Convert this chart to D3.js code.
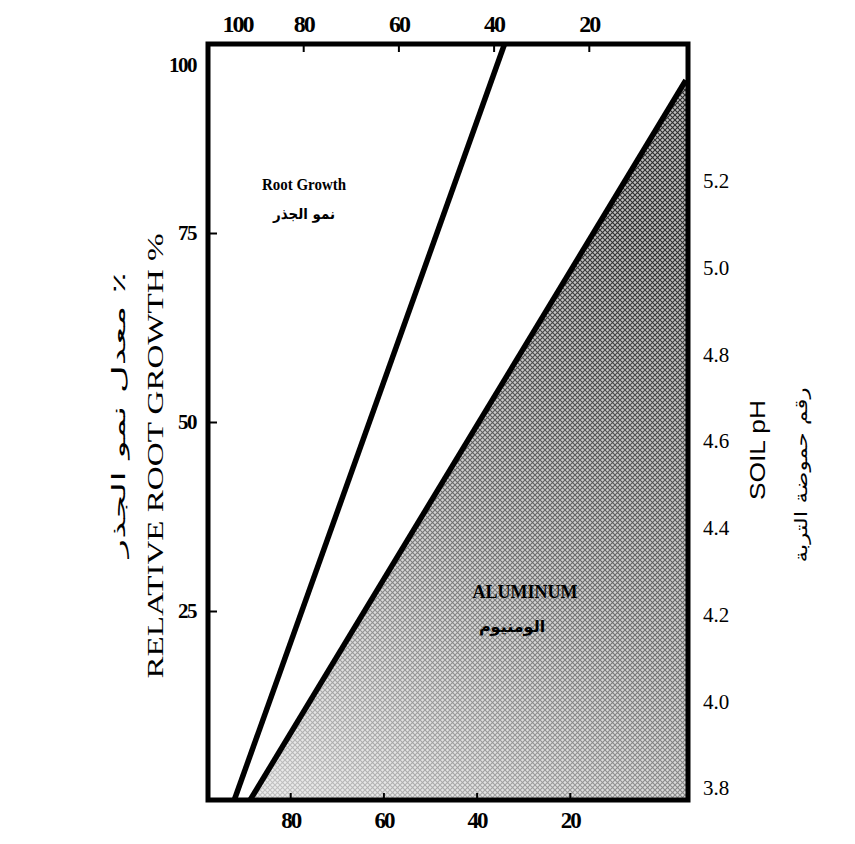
<!DOCTYPE html>
<html><head><meta charset="utf-8">
<script src="https://cdn.jsdelivr.net/npm/d3@7"></script>
<style>body{margin:0;background:#fff}</style>
</head><body>
<svg id="c" width="855" height="844"></svg>
<script>
// ---- data ----
const topTicks = [100, 80, 60, 40, 20];          // top axis labels
const bottomTicks = [80, 60, 40, 20];            // bottom axis labels
const leftTicks = [25, 50, 75, 100];             // relative root growth %
const phTicks = [3.8, 4.0, 4.2, 4.4, 4.6, 4.8, 5.0, 5.2]; // soil pH
// line endpoints: [aluminum %, relative root growth %]
const rootGrowthLine = [[92, 0], [34, 100]];
const aluminumLine = [[88.6, 0], [-4.9, 95.2]];

const svg = d3.select("#c");
const L = 208, R = 688, T = 44, B = 800;

const xTop = d3.scaleLinear().domain([100, 0]).range([208, 684]);
const xBot = d3.scaleLinear().domain([100, 0]).range([197, 663]);
const yL = d3.scaleLinear().domain([0, 100]).range([B, T]);
const yR = d3.scaleLinear().domain([3.8, 5.2]).range([788, 181]);

// shading pattern
const defs = svg.append("defs");
const pat = defs.append("pattern").attr("id", "hatch").attr("patternUnits", "userSpaceOnUse")
  .attr("width", 5).attr("height", 5);
pat.append("rect").attr("width", 5).attr("height", 5).attr("fill", "#bdbdbd");
pat.append("path").attr("d", "M0,0L5,5M5,0L0,5").attr("stroke", "#2e2e2e").attr("stroke-width", 1.1);
const grad = defs.append("linearGradient").attr("id", "fade")
  .attr("gradientUnits", "userSpaceOnUse")
  .attr("x1", 300).attr("y1", 800).attr("x2", 660).attr("y2", 250);
grad.append("stop").attr("offset", 0).attr("stop-color", "#fff").attr("stop-opacity", 0.7);
grad.append("stop").attr("offset", 0.5).attr("stop-color", "#fff").attr("stop-opacity", 0.3);
grad.append("stop").attr("offset", 1).attr("stop-color", "#fff").attr("stop-opacity", 0);

const xEdge = xBot.invert(R);
const shadePoly = [...aluminumLine, [xEdge, aluminumLine[1][1]], [xEdge, 0]];
const line = d3.line().x(d => xBot(d[0])).y(d => yL(d[1]));
svg.append("path").attr("d", line(shadePoly) + "Z").attr("fill", "url(#hatch)");
svg.append("path").attr("d", line(shadePoly) + "Z").attr("fill", "url(#fade)");

// lines
svg.append("path").attr("d", line(rootGrowthLine)).attr("stroke", "#000").attr("stroke-width", 5.5).attr("fill", "none");
svg.append("path").attr("d", line(aluminumLine)).attr("stroke", "#000").attr("stroke-width", 5.5).attr("fill", "none");

// frame
svg.append("rect").attr("x", L).attr("y", T).attr("width", R - L).attr("height", B - T)
  .attr("fill", "none").attr("stroke", "#000").attr("stroke-width", 5);

const numFont = "'Liberation Serif', 'Times New Roman', serif";
const arFont = "'DejaVu Sans', 'Noto Sans', sans-serif";

// top axis
const gTop = svg.append("g").attr("transform", `translate(0,${T})`)
  .call(d3.axisTop(xTop).tickValues(topTicks).tickSize(-8).tickPadding(12).tickFormat(d3.format("d")));
gTop.select(".domain").remove();
gTop.selectAll(".tick line").attr("stroke-width", 2).filter(d => d === 100).remove();
gTop.selectAll(".tick text").filter(d => d === 100).attr("dx", 29);

// bottom axis
const gBot = svg.append("g").attr("transform", `translate(0,${B})`)
  .call(d3.axisBottom(xBot).tickValues(bottomTicks).tickSize(-7).tickPadding(12).tickFormat(d3.format("d")));
gBot.select(".domain").remove();
gBot.selectAll(".tick line").attr("stroke-width", 2);

// left axis
const gLeft = svg.append("g").attr("transform", `translate(${L},0)`)
  .call(d3.axisLeft(yL).tickValues(leftTicks).tickSize(-9).tickPadding(12).tickFormat(d3.format("d")));
gLeft.select(".domain").remove();
gLeft.selectAll(".tick line").attr("stroke-width", 2).filter(d => d === 100).remove();
gLeft.selectAll(".tick text").filter(d => d === 100).attr("dy", "1.3em");

// right axis (pH)
const gRight = svg.append("g").attr("transform", `translate(${R},0)`)
  .call(d3.axisRight(yR).tickValues(phTicks).tickSize(0).tickPadding(15).tickFormat(d3.format(".1f")));
gRight.select(".domain").remove();

svg.selectAll(".tick text").attr("font-family", numFont).attr("font-weight", "bold").attr("fill", "#000");
gTop.selectAll(".tick text").attr("font-size", 24).attr("letter-spacing", -2);
gBot.selectAll(".tick text").attr("font-size", 23).attr("letter-spacing", -2);
gLeft.selectAll(".tick text").attr("font-size", 21).attr("letter-spacing", -1.5);
gRight.selectAll(".tick text").attr("font-weight", "normal").attr("font-size", 21);

// titles
svg.append("text").attr("transform", "translate(163,456) rotate(-90)").attr("text-anchor", "middle")
  .attr("font-family", numFont).attr("font-size", 23)
  .attr("textLength", 445).attr("lengthAdjust", "spacingAndGlyphs").text("RELATIVE ROOT GROWTH %");
svg.append("text").attr("transform", "translate(125,415) rotate(-90)").attr("text-anchor", "middle")
  .attr("font-family", arFont).attr("font-size", 18)
  .attr("textLength", 285).attr("lengthAdjust", "spacingAndGlyphs").text("معدل نمو الجذر ٪");
svg.append("text").attr("transform", "translate(765,450) rotate(-90)").attr("text-anchor", "middle")
  .attr("font-family", "'Liberation Sans', Arial, sans-serif").attr("font-size", 22)
  .attr("textLength", 100).attr("lengthAdjust", "spacingAndGlyphs").text("SOIL pH");
svg.append("text").attr("transform", "translate(807,475) rotate(-90)").attr("text-anchor", "middle")
  .attr("font-family", arFont).attr("font-size", 17)
  .attr("textLength", 175).attr("lengthAdjust", "spacingAndGlyphs").text("رقم حموضة التربة");

svg.append("text").attr("x", 304).attr("y", 190).attr("text-anchor", "middle")
  .attr("font-family", numFont).attr("font-size", 16).attr("font-weight", "bold")
  .attr("textLength", 84).attr("lengthAdjust", "spacingAndGlyphs").text("Root Growth");
svg.append("text").attr("x", 304).attr("y", 219).attr("text-anchor", "middle")
  .attr("font-family", arFont).attr("font-size", 15).attr("font-weight", "bold")
  .attr("textLength", 62).attr("lengthAdjust", "spacingAndGlyphs").text("نمو الجذر");

svg.append("text").attr("x", 525).attr("y", 598).attr("text-anchor", "middle")
  .attr("font-family", numFont).attr("font-size", 18).attr("font-weight", "bold").text("ALUMINUM");
svg.append("text").attr("x", 512).attr("y", 632).attr("text-anchor", "middle")
  .attr("font-family", arFont).attr("font-size", 16).attr("font-weight", "bold").text("الومنيوم");
</script>
</body></html>
